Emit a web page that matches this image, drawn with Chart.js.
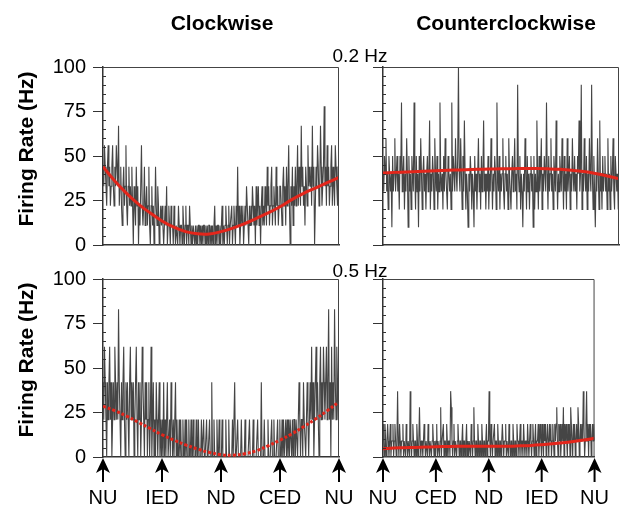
<!DOCTYPE html>
<html>
<head>
<meta charset="utf-8">
<script src="https://cdn.jsdelivr.net/npm/chart.js@4.4.0/dist/chart.umd.min.js"></script>
<style>
  body { margin: 0; background: #fff; }
  #wrap { position: relative; width: 638px; height: 509px; font-family: "Liberation Sans", Arial, sans-serif; color: #000; }
  canvas { position: absolute; left: 0; top: 0; }
  .txt { position: absolute; white-space: nowrap; line-height: 1; transform: translateX(-50%); }
  .ttl { font-weight: bold; font-size: 21px; }
  .hz { font-size: 19px; }
  .ylab { position: absolute; white-space: nowrap; line-height: 1; font-weight: bold; font-size: 21px; transform: translate(-50%, -50%) rotate(-90deg); }
</style>
</head>
<body>
<div id="wrap">
  <canvas id="cw02" width="638" height="509"></canvas>
  <canvas id="ccw02" width="638" height="509"></canvas>
  <canvas id="cw05" width="638" height="509"></canvas>
  <canvas id="ccw05" width="638" height="509"></canvas>
  <div class="txt ttl" style="left:222px; top:12px;">Clockwise</div>
  <div class="txt ttl" style="left:506px; top:12px;">Counterclockwise</div>
  <div class="txt hz" style="left:360px; top:46px;">0.2 Hz</div>
  <div class="txt hz" style="left:360px; top:261px;">0.5 Hz</div>
  <div class="ylab" style="left:25px; top:149px;">Firing Rate (Hz)</div>
  <div class="ylab" style="left:25px; top:360px;">Firing Rate (Hz)</div>
</div>
<script>
// positions of the stimulus cycle (fraction of one turn)
const phase = [0, 0.25, 0.5, 0.75, 1];
const cwLabels = ['NU', 'IED', 'ND', 'CED', 'NU'];
const ccwLabels = ['NU', 'CED', 'ND', 'IED', 'NU'];
const yTicks = [0, 25, 50, 75, 100];

// instantaneous firing rate, clockwise 0.2 Hz
const rateCw02 = [
  44,33,56,44,33,22,44,56,33,44,22,33,44,56,33,22,44,33,56,44,
  33,67,22,33,44,22,11,33,44,22,33,56,22,11,33,44,22,33,22,44,
  22,0,33,22,11,44,22,33,0,22,11,33,56,22,11,22,44,11,22,33,
  11,22,44,11,0,22,33,11,22,0,11,44,22,11,33,22,0,11,22,11,
  22,11,0,11,22,11,33,0,11,22,11,0,22,11,11,0,22,11,0,11,
  11,0,22,11,0,11,11,0,22,11,0,11,22,0,11,11,0,22,11,0,
  11,0,11,11,0,11,0,11,0,11,11,0,11,0,11,0,11,11,0,11,
  0,11,0,11,11,0,11,0,11,0,11,22,0,11,0,11,11,0,11,0,
  11,22,0,11,0,11,22,11,0,11,22,0,11,11,22,0,11,22,11,0,
  22,11,44,11,22,0,11,22,11,22,0,11,22,11,33,22,11,0,22,11,
  22,11,33,22,11,22,0,33,11,22,33,11,22,0,22,33,11,22,11,33,
  22,11,44,22,33,11,22,33,44,11,22,33,22,11,44,22,33,11,22,33,
  33,22,11,33,44,22,33,11,44,22,33,56,22,0,33,22,44,11,33,22,
  44,22,33,56,22,44,33,22,67,33,44,22,33,11,44,33,22,56,33,44,
  33,44,22,67,33,44,0,22,44,33,56,44,22,33,67,44,22,33,44,78,
  33,44,22,56,33,44,22,33,44,56,22,44,33,22,56,44,33,22,44,44
];
// counterclockwise 0.2 Hz
const rateCcw02 = [
  40,30,50,40,60,30,40,20,50,40,30,40,10,50,30,40,60,30,40,50,
  30,40,20,50,40,80,30,40,50,20,40,30,60,40,10,50,30,40,20,50,
  40,30,80,40,20,50,30,40,10,50,30,60,40,20,40,50,30,40,20,40,
  50,30,40,70,20,40,30,50,40,20,60,40,30,50,20,40,30,80,40,30,
  40,20,50,30,60,40,30,20,50,40,30,40,20,80,30,50,40,30,60,40,
  30,50,100,40,30,60,40,20,50,30,70,40,20,40,30,10,40,30,50,40,
  20,40,30,10,50,30,40,20,40,60,30,40,20,50,30,40,70,30,40,20,
  40,30,50,20,40,30,60,40,20,40,30,50,40,20,80,40,30,50,20,40,
  30,40,60,30,20,40,50,30,40,20,60,40,30,20,40,50,30,40,60,30,
  40,20,90,40,30,50,20,40,30,10,40,30,60,40,20,50,30,40,20,40,
  50,30,40,10,50,20,40,30,70,40,20,50,30,40,60,20,40,30,50,40,
  30,80,40,20,50,30,40,60,30,40,20,50,40,30,70,40,20,40,30,50,
  40,30,60,40,20,50,30,40,20,60,30,40,50,20,40,30,60,40,30,50,
  30,40,20,50,40,70,30,40,90,20,40,30,60,40,30,50,20,40,30,60,
  40,30,90,40,20,50,30,10,40,30,60,40,20,70,30,40,20,50,30,40,
  50,30,40,20,60,30,40,20,50,30,40,60,30,20,50,40,30,40,20,40
];
// clockwise 0.5 Hz
const rateCw05 = [
  42,21,62,42,21,0,42,21,42,62,21,42,0,21,42,21,62,42,21,42,
  21,83,42,21,0,42,21,42,62,21,0,42,21,42,21,0,42,62,21,42,
  21,42,0,21,42,62,21,0,42,21,42,0,21,62,42,21,0,42,21,42,
  0,21,42,0,21,62,0,21,42,0,21,0,42,21,0,21,42,0,21,0,
  21,0,42,0,21,0,21,42,0,0,21,0,42,21,0,21,0,0,42,0,
  21,0,0,21,0,21,0,0,21,0,0,21,0,21,0,0,21,0,0,21,
  0,0,21,0,0,0,21,0,0,21,0,0,0,21,0,0,21,0,0,0,
  21,0,0,0,21,0,0,42,0,0,21,0,0,0,21,0,0,21,0,0,
  0,21,0,0,0,0,21,0,0,0,21,0,0,0,0,21,0,0,42,0,
  0,0,21,0,0,0,0,21,0,0,0,0,21,0,0,0,0,0,21,0,
  0,0,0,21,0,0,0,0,0,21,0,0,0,0,42,0,0,0,21,0,
  0,0,0,21,0,0,0,0,21,0,0,21,0,0,0,0,21,0,0,21,
  0,0,21,0,21,0,0,21,0,21,0,21,0,21,21,0,21,0,21,21,
  0,21,21,0,21,42,21,0,21,21,0,42,21,21,0,21,42,21,0,21,
  42,21,62,21,42,0,21,42,62,21,42,21,0,42,62,21,42,21,62,42,
  21,42,62,21,42,83,21,42,0,62,21,42,21,83,42,21,62,42,21,62
];
// counterclockwise 0.5 Hz
const rateCcw05 = [
  18.5,9,0,18.5,9,0,9,18.5,9,0,9,18.5,0,9,9,18.5,0,9,18.5,9,
  0,9,37,9,0,18.5,9,0,9,9,18.5,0,9,9,0,18.5,9,0,9,9,
  0,37,9,0,9,18.5,9,0,9,9,0,18.5,9,0,9,28,9,0,9,9,
  0,9,18.5,9,0,9,9,0,18.5,9,0,9,9,0,9,18.5,9,0,9,0,
  9,18.5,0,9,9,0,9,28,0,9,9,18.5,0,9,9,0,18.5,9,0,9,
  9,0,37,28,9,0,9,18.5,0,9,9,0,9,18.5,9,0,9,9,0,9,
  18.5,0,9,9,0,9,18.5,0,9,0,9,9,0,18.5,9,0,9,28,9,0,
  9,9,0,18.5,9,0,9,9,0,18.5,9,0,9,9,0,9,18.5,0,9,9,
  37,9,0,18.5,9,0,9,9,18.5,0,9,9,0,18.5,9,0,9,9,0,9,
  18.5,9,0,9,9,18.5,0,9,9,0,18.5,9,0,9,9,0,18.5,9,0,9,
  9,0,18.5,9,9,0,9,18.5,0,9,9,0,18.5,9,0,9,9,0,18.5,9,
  0,9,18.5,9,0,9,18.5,9,0,9,18.5,0,9,9,18.5,0,9,18.5,9,0,
  18.5,9,0,18.5,9,18.5,0,9,18.5,9,0,18.5,9,18.5,0,9,18.5,9,0,18.5,
  9,18.5,28,9,0,18.5,9,18.5,0,9,18.5,9,28,0,18.5,9,18.5,9,0,18.5,
  9,18.5,0,28,18.5,9,0,18.5,9,18.5,0,9,18.5,9,28,18.5,0,9,18.5,9,
  18.5,9,37,18.5,0,9,18.5,37,9,18.5,0,18.5,9,18.5,0,9,18.5,9,18.5,9
];

// fitted curves, sampled every 0.05 of the cycle
const fitCw02 = [44,36,29,23,18,13.5,10,7.5,6.3,6.2,7.5,9.5,12,15,18,21.5,25.5,29,32,35,38];
const fitCcw02 = [40.5,40.8,41,41.3,41.6,41.9,42.1,42.3,42.5,42.7,42.8,42.9,43,43,42.8,42.5,42,41.3,40.2,38.8,37.2];
const fitCw05 = [28.5,26,23,19.5,16,12.5,9.5,6.8,4.5,2.6,1.3,1,1.8,3.5,6.3,9.5,13,17,21.3,26,31];
const fitCcw05 = [4.7,5,5.2,5.4,5.6,5.8,5.9,6,6,6,6,6,6.1,6.3,6.5,6.9,7.4,8,8.7,9.5,10.5];

const FONT = '"Liberation Sans", Arial, sans-serif';

function toXY(arr) {
  return arr.map((v, i) => ({ x: i / (arr.length - 1), y: v }));
}

// frame, inner minor ticks and direction arrows
const panelDeco = {
  id: 'panelDeco',
  afterDatasetsDraw(chart, args, opts) {
    const { ctx, chartArea: a, scales } = chart;
    ctx.save();
    ctx.strokeStyle = '#444';
    ctx.lineWidth = 1;
    ctx.beginPath();
    ctx.moveTo(a.left, a.top + 0.5);
    ctx.lineTo(a.right - 0.5, a.top + 0.5);
    ctx.lineTo(a.right - 0.5, a.bottom);
    ctx.stroke();

    ctx.strokeStyle = '#333';
    ctx.beginPath();
    for (let v = 5; v < 100; v += 5) {
      if (v % 25 === 0) continue;
      const py = Math.round(scales.y.getPixelForValue(v)) + 0.5;
      ctx.moveTo(a.left, py);
      ctx.lineTo(a.left + 3, py);
    }
    ctx.stroke();

    if (opts.arrows) {
      ctx.fillStyle = '#000';
      phase.forEach(v => {
        const px = scales.x.getPixelForValue(v);
        const b = a.bottom + 1;
        ctx.beginPath();
        ctx.moveTo(px, b);
        ctx.lineTo(px + 7, b + 15);
        ctx.lineTo(px, b + 11);
        ctx.lineTo(px - 7, b + 15);
        ctx.closePath();
        ctx.fill();
        ctx.fillRect(px - 1, b + 8, 2, 16);
      });
    }
    ctx.restore();
  }
};

function makePanel(id, rates, fit, o) {
  new Chart(document.getElementById(id), {
    type: 'line',
    data: {
      datasets: [
        { data: toXY(rates), borderColor: '#454545', borderWidth: 1.1, pointRadius: 0, tension: 0, order: 2 },
        { data: toXY(fit), borderColor: '#e3261b', borderWidth: 3, pointRadius: 0, tension: 0.4,
          borderDash: o.dash || [], order: 1 }
      ]
    },
    options: {
      responsive: false,
      animation: false,
      events: [],
      layout: { padding: o.pad },
      plugins: { legend: { display: false }, tooltip: { enabled: false }, panelDeco: { arrows: !!o.labels } },
      scales: {
        x: {
          type: 'linear', min: 0, max: 1,
          afterFit: s => { s.height = o.labels ? 48 : 1; },
          afterBuildTicks: s => { s.ticks = phase.map(v => ({ value: v })); },
          ticks: {
            display: !!o.labels, autoSkip: false, maxRotation: 0, padding: 29, color: '#000',
            font: { size: 20, family: FONT },
            callback: (v, i) => o.labels ? o.labels[i] : ''
          },
          grid: { display: true, drawOnChartArea: false, drawTicks: false },
          border: { color: '#333', width: 1.5 }
        },
        y: {
          min: 0, max: 100,
          afterFit: s => { s.width = o.yLabels ? 50 : 12; },
          afterBuildTicks: s => { s.ticks = yTicks.map(v => ({ value: v })); },
          ticks: { display: o.yLabels, padding: 7, color: '#000', font: { size: 20, family: FONT } },
          grid: { drawOnChartArea: false, drawTicks: true, tickLength: 10, color: '#333', lineWidth: 1 },
          border: { color: '#333', width: 1.5 }
        }
      }
    },
    plugins: [panelDeco]
  });
}

makePanel('cw02', rateCw02, fitCw02, { yLabels: true, pad: { left: 53, right: 299, top: 67, bottom: 263 } });
makePanel('ccw02', rateCcw02, fitCcw02, { yLabels: false, pad: { left: 371, right: 19, top: 67, bottom: 263 } });
makePanel('cw05', rateCw05, fitCw05, { yLabels: true, labels: cwLabels, dash: [3, 2], pad: { left: 53, right: 299, top: 279, bottom: 4 } });
makePanel('ccw05', rateCcw05, fitCcw05, { yLabels: false, labels: ccwLabels, pad: { left: 371, right: 19, top: 279, bottom: 4 } });
</script>
</body>
</html>
